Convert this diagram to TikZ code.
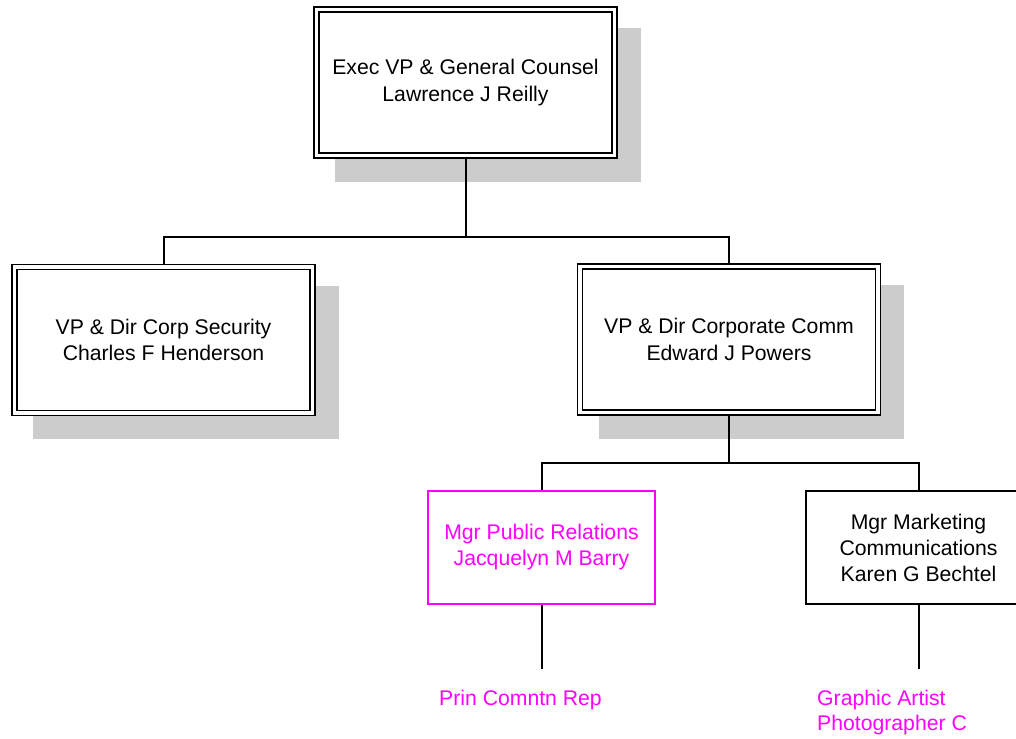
\documentclass[tikz,border=0pt]{standalone}
\usepackage{fontspec}
\setmainfont{Liberation Sans}
\usetikzlibrary{calc,backgrounds}
\definecolor{shadowgray}{RGB}{204,204,204}
\definecolor{pink}{RGB}{255,0,255}
\tikzset{
  execbox/.style={draw=black, line width=1.5pt, double=white, double distance=3.5pt,
    fill=white, minimum width=298pt, minimum height=146pt, inner sep=0pt,
    align=center, font=\fontsize{21.2}{26.5}\selectfont},
  mgrbox/.style={draw=black, line width=2pt, fill=white, minimum width=225pt,
    minimum height=113pt, inner sep=0pt, align=center,
    font=\fontsize{21.2}{26}\selectfont},
  pinkbox/.style={mgrbox, draw=pink, text=pink},
  linkline/.style={draw=black, line width=2pt},
  shade box/.style={fill=shadowgray, draw=none},
  staff/.style={text=pink, align=left, inner sep=0pt, anchor=west,
    font=\fontsize{21.2}{25}\selectfont}
}
\begin{document}
\begin{tikzpicture}[x=1pt,y=-1pt]
\clip (0,0) rectangle (1016,738);

\node[execbox] (top) at (465.5,82.5) {Exec VP \& General Counsel\\Lawrence J Reilly};
\node[execbox] (sec) at (163.5,340) {VP \& Dir Corp Security\\Charles F Henderson};
\node[execbox] (com) at (729,339.5) {VP \& Dir Corporate Comm\\Edward J Powers};
\node[pinkbox, minimum width=227pt] (pr) at (541.5,547.5) {Mgr Public Relations\\Jacquelyn M Barry};
\node[mgrbox] (mk) at (918.5,547.5) {Mgr Marketing\\Communications\\Karen G Bechtel};

\node[staff] (rep) at (439,700) {Prin Comntn Rep};
\node[staff] (art) at (817,713) {Graphic Artist\\Photographer C};

\coordinate (j1) at (465.5,237);
\coordinate (j2) at (729,462.5);
\coordinate (prend) at (541.5,669);
\coordinate (mkend) at (918.5,669);

\begin{scope}[on background layer]
  \fill[white] (0,0) rectangle (1016,738);
  \foreach \n in {top,sec,com}{
    \fill[shade box] ($(\n.north west)+(19.5,19.5)$) rectangle ($(\n.south east)+(25.5,25.5)$);
  }
  \draw[linkline] (top.south) -- (j1);
  \draw[linkline] (sec.north) |- (j1);
  \draw[linkline] (com.north) |- (j1);
  \draw[linkline] (com.south) -- (j2);
  \draw[linkline] (pr.north) |- (j2);
  \draw[linkline] (mk.north) |- (j2);
  \draw[linkline] (pr.south) -- (prend);
  \draw[linkline] (mk.south) -- (mkend);
\end{scope}
\end{tikzpicture}
\end{document}
